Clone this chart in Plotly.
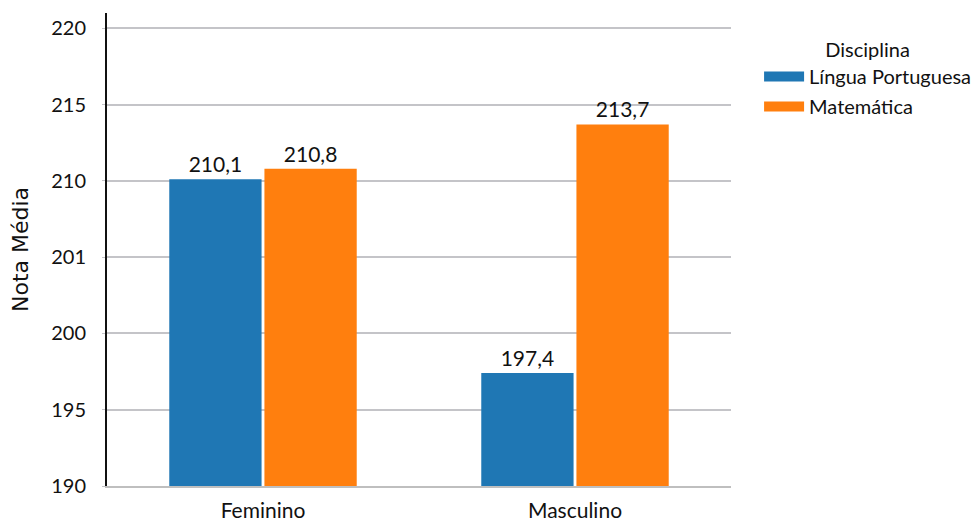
import plotly.graph_objects as go

categories = ["Feminino", "Masculino"]
series_names = ["Língua Portuguesa", "Matemática"]
lingua_portuguesa = [210.1, 197.4]
matematica = [210.8, 213.7]
colors = ["#1f77b4", "#ff7f0e"]
tick_values = [190, 195, 200, 205, 210, 215, 220]
tick_labels = ["190", "195", "200", "201", "210", "215", "220"]

FONT = "Lato"

def fmt(v):
    return f"{v:.1f}".replace(".", ",")

fig = go.Figure()
for name, vals, col in zip(series_names, [lingua_portuguesa, matematica], colors):
    fig.add_trace(go.Bar(
        x=categories, y=vals, name=name, marker_color=col, marker_line_width=0,
        text=[fmt(v) for v in vals], textposition="outside",
        textfont=dict(family=FONT, size=21, color="#111111"),
        showlegend=False, cliponaxis=False,
    ))
# legend entries as wide swatches
for name, col in zip(series_names, colors):
    fig.add_trace(go.Scatter(
        x=[None], y=[None], mode="lines", name=name, legendgroup=name,
        line=dict(color=col, width=10), showlegend=True,
    ))

fig.update_layout(
    width=975, height=521,
    margin=dict(l=107, r=244, t=13, b=35, autoexpand=False),
    paper_bgcolor="white", plot_bgcolor="white",
    barmode="group", bargap=0.39, bargroupgap=0.03,
    font=dict(family=FONT, size=20, color="#111111"),
    legend=dict(
        title=dict(text="Disciplina", side="top center", font=dict(family=FONT, size=20)),
        font=dict(family=FONT, size=20, color="#111111"),
        x=1.045, xanchor="left", y=0.962, yanchor="top",
        tracegroupgap=1, itemwidth=40,
    ),
    xaxis=dict(
        showline=True, linecolor="#bfbfbf", linewidth=2, automargin=False,
        tickfont=dict(family=FONT, size=21), ticks="", showgrid=False,
        ticklabelstandoff=5,
    ),
    yaxis=dict(
        range=[190, 221], tickmode="array", tickvals=tick_values, ticktext=tick_labels,
        showgrid=True, gridcolor="#c4c4c8", gridwidth=2, automargin=False,
        showline=True, linecolor="#111111", linewidth=2,
        ticks="outside", ticklen=3, tickcolor="#c4c4c8", ticklabelstandoff=12,
        tickfont=dict(family=FONT, size=20), zeroline=False,
        title=dict(text="Nota Média", font=dict(family="DejaVu Sans", size=22), standoff=16),
    ),
)

fig.write_html("out.html")
